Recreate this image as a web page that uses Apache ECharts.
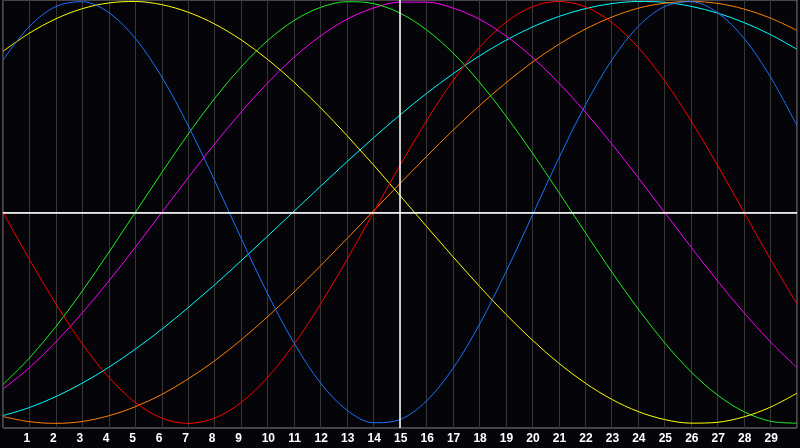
<!DOCTYPE html>
<html>
<head>
<meta charset="utf-8">
<script src="https://cdn.jsdelivr.net/npm/echarts@6/dist/echarts.min.js"></script>
<style>
html,body{margin:0;padding:0;background:#050409;}
#chart{width:800px;height:448px;}
</style>
</head>
<body>
<div id="chart"></div>
<script>
const days = [0,1,2,3,4,5,6,7,8,9,10,11,12,13,14,15,16,17,18,19,20,21,22,23,24,25,26,27,28,29,30];
const tickLabels = ['1','2','3','4','5','6','7','8','9','10','11','12','13','14','15','16','17','18','19','20','21','22','23','24','25','26','27','28','29'];
const todayDay = 15;

const blueValues = [0.722,0.882,0.976,0.999,0.947,0.825,0.642,0.411,0.150,-0.123,-0.386,-0.620,-0.809,-0.938,-0.997,-0.982,-0.894,-0.740,-0.531,-0.283,-0.014,0.257,0.508,0.722,0.882,0.976,0.999,0.947,0.825,0.642,0.411];
const redValues = [0,-0.223,-0.434,-0.624,-0.782,-0.901,-0.975,-1,-0.975,-0.901,-0.782,-0.624,-0.434,-0.223,0,0.223,0.434,0.624,0.782,0.901,0.975,1,0.975,0.901,0.782,0.624,0.434,0.223,0,-0.223,-0.434];
const greenValues = [-0.815,-0.690,-0.541,-0.372,-0.189,0,0.189,0.372,0.541,0.690,0.815,0.910,0.972,0.999,0.990,0.945,0.866,0.756,0.618,0.458,0.282,0.095,-0.095,-0.282,-0.458,-0.618,-0.756,-0.866,-0.945,-0.990,-0.999];
const magentaValues = [-0.837,-0.736,-0.614,-0.476,-0.325,-0.165,0,0.165,0.325,0.476,0.614,0.736,0.837,0.916,0.969,0.997,0.997,0.969,0.916,0.837,0.736,0.614,0.476,0.325,0.165,0,-0.165,-0.325,-0.476,-0.614,-0.736];
const yellowValues = [0.764,0.850,0.918,0.966,0.993,1.000,0.985,0.949,0.893,0.818,0.725,0.617,0.496,0.364,0.225,0.080,-0.066,-0.210,-0.350,-0.483,-0.605,-0.715,-0.809,-0.886,-0.944,-0.982,-0.999,-0.995,-0.969,-0.923,-0.857];
const orangeValues = [-0.968,-0.992,-1.000,-0.991,-0.964,-0.921,-0.863,-0.789,-0.703,-0.604,-0.494,-0.377,-0.253,-0.124,0.007,0.137,0.265,0.389,0.506,0.614,0.712,0.797,0.869,0.926,0.968,0.992,1.000,0.991,0.964,0.921,0.863];
const cyanValues = [-0.963,-0.925,-0.873,-0.809,-0.734,-0.648,-0.554,-0.451,-0.343,-0.229,-0.112,0.006,0.124,0.241,0.354,0.462,0.564,0.657,0.742,0.816,0.879,0.929,0.966,0.990,1.000,0.996,0.977,0.945,0.900,0.843,0.773];

const curves = [
  {name:'cyan', values: cyanValues, color:'#00ffff'},
  {name:'orange', values: orangeValues, color:'#ff8000'},
  {name:'magenta', values: magentaValues, color:'#ff00ff'},
  {name:'green', values: greenValues, color:'#22ee22'},
  {name:'yellow', values: yellowValues, color:'#ffff00'},
  {name:'red', values: redValues, color:'#ff0000'},
  {name:'blue', values: blueValues, color:'#1a72ff'}
];

const series = curves.map(c => ({
  name: c.name,
  type: 'line',
  data: days.map((d, i) => [d, c.values[i]]),
  smooth: 0.333,
  symbol: 'none',
  lineStyle: {color: c.color, width: 1},
  itemStyle: {color: c.color},
  silent: true,
  z: 3
}));

series.push({
  name: 'refs',
  type: 'line',
  data: [],
  silent: true,
  z: 5,
  markLine: {
    silent: true,
    symbol: 'none',
    label: {show: false},
    lineStyle: {color: '#ffffff', type: 'solid', width: 1.5},
    data: [{yAxis: 0}, {xAxis: todayDay}]
  }
});

const chart = echarts.init(document.getElementById('chart'), null, {renderer: 'canvas'});
chart.setOption({
  animation: false,
  backgroundColor: '#050409',
  grid: {left: 0, right: 0, top: 0, bottom: 20, show: true, borderColor: '#8a8a8a', borderWidth: 1, backgroundColor: 'transparent'},
  xAxis: {
    type: 'value',
    min: 0, max: 30, interval: 1,
    axisLine: {show: true, lineStyle: {color: '#a8a8a8', width: 1}},
    axisTick: {show: false},
    splitLine: {show: true, lineStyle: {color: '#363636', width: 1}},
    axisLabel: {
      show: true,
      margin: 5,
      formatter: v => (v >= 1 && v <= 29) ? '{a|' + tickLabels[v - 1] + '}' : '',
      rich: {
        a: {width: 12, align: 'left', color: '#ffffff', fontWeight: 'bold', fontSize: 12, fontFamily: 'Liberation Sans, Arial, sans-serif'}
      }
    }
  },
  yAxis: {
    type: 'value',
    min: -1.022, max: 1.007,
    axisLine: {show: false},
    axisTick: {show: false},
    axisLabel: {show: false},
    splitLine: {show: false}
  },
  series: series
});
</script>
</body>
</html>
